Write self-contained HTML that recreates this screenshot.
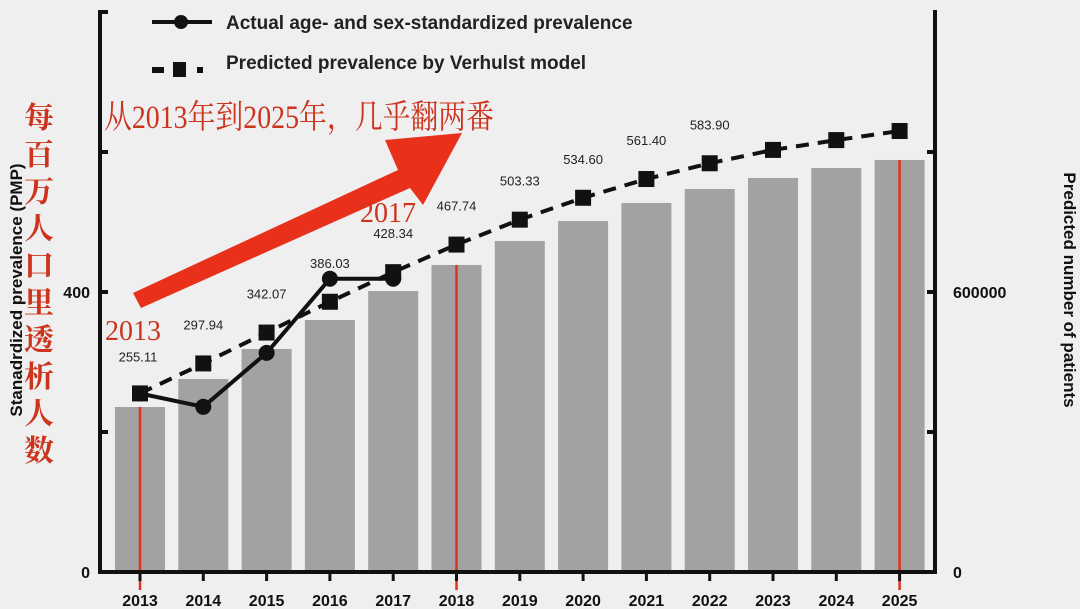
<!DOCTYPE html>
<html><head><meta charset="utf-8"><style>
body{margin:0;background:#efefef;}
svg{display:block;font-family:"Liberation Sans",Arial,sans-serif;}
.cn{font-family:"Liberation Serif","Noto Serif CJK SC",serif;fill:#cc341e;}
</style></head><body>
<svg width="1080" height="609" viewBox="0 0 1080 609">
<rect width="1080" height="609" fill="#efefef"/>
<g id="bars"></g>
<g id="redlines"></g>
<g id="axes"></g>
<g id="lines"></g>
<g id="labels"></g>
<g>
 <line x1="152" y1="22" x2="212" y2="22" stroke="#111" stroke-width="4"/>
 <circle cx="181" cy="22" r="7" fill="#111"/>
 <text x="226" y="29" font-size="19" font-weight="bold" fill="#222">Actual age- and sex-standardized prevalence</text>
 <rect x="152" y="67" width="12" height="6" fill="#111"/><rect x="173" y="62" width="13" height="15" fill="#111"/><rect x="197" y="67" width="6" height="6" fill="#111"/>
 <text x="226" y="69" font-size="19" font-weight="bold" fill="#222">Predicted prevalence by Verhulst model</text>
</g>
<text transform="translate(22,290) rotate(-90)" text-anchor="middle" font-size="17" font-weight="bold" fill="#111">Stanadrdized prevalence (PMP)</text>
<text transform="translate(1064,290) rotate(90)" text-anchor="middle" font-size="17" font-weight="bold" fill="#111">Predicted number of patients</text>
<polygon points="133,293 398,170 385,140 462,133 423,205 410,188 141,308" fill="#e8301a"/>
<text x="104" y="128" font-size="33" class="cn" textLength="390" lengthAdjust="spacingAndGlyphs">从2013年到2025年，几乎翻两番</text>
<text x="105" y="340" font-size="28" class="cn">2013</text>
<text x="360" y="222" font-size="28" class="cn">2017</text>
<g font-weight="bold">
<text class="cn" font-size="30" x="24" y="128">每</text><text class="cn" font-size="30" x="24" y="165">百</text><text class="cn" font-size="30" x="24" y="202">万</text><text class="cn" font-size="30" x="24" y="239">人</text><text class="cn" font-size="30" x="24" y="276">口</text><text class="cn" font-size="30" x="24" y="313">里</text><text class="cn" font-size="30" x="24" y="350">透</text><text class="cn" font-size="30" x="24" y="387">析</text><text class="cn" font-size="30" x="24" y="424">人</text><text class="cn" font-size="30" x="24" y="461">数</text>
</g>
</svg>
<script>
const years=[2013,2014,2015,2016,2017,2018,2019,2020,2021,2022,2023,2024,2025];
const patients=[353600,413600,477900,540000,602100,657900,709300,752100,790700,820700,844300,865700,882900];
const predicted=[255.11,297.94,342.07,386.03,428.34,467.74,503.33,534.60,561.40,583.90,603,617,630];
const predictedLabels=["255.11","297.94","342.07","386.03","428.34","467.74","503.33","534.60","561.40","583.90","","",""];
const actual=[255,236,313,419,419];
const leftTicks=[0,200,400,600,800];
const leftTickLabels=["0","","400","",""];
const rightTicks=[0,300000,600000,900000];
const rightTickLabels=["0","","600000",""];
const redYears=[2013,2018,2025];
const NS="http://www.w3.org/2000/svg";
const x0=140,dx=63.3,base=572;
const xs=i=>x0+i*dx;
const yL=v=>base-v*0.7;
const yR=v=>base-v*280/600000;
function mk(t,a,p){const e=document.createElementNS(NS,t);for(const k in a)e.setAttribute(k,a[k]);p.appendChild(e);return e;}
const gB=document.getElementById('bars'),gR=document.getElementById('redlines'),gA=document.getElementById('axes'),gL=document.getElementById('lines'),gT=document.getElementById('labels');
patients.forEach((v,i)=>{
 const r=mk('rect',{x:xs(i)-25,y:yR(v),width:50,height:base-yR(v),fill:'#a2a2a2'},gB);
 
 
});
redYears.forEach(yr=>{
 const i=years.indexOf(yr);
 const l=mk('line',{x1:xs(i),x2:xs(i),y1:yR(patients[i]),y2:base+18,stroke:'#e0321c','stroke-width':2.5},gR);
 
 
});
let a=mk('line',{x1:100,x2:100,y1:10,y2:base+2,stroke:'#111','stroke-width':4},gA);

a=mk('line',{x1:935,x2:935,y1:10,y2:base+2,stroke:'#111','stroke-width':4},gA);

a=mk('line',{x1:98,x2:937,y1:base,y2:base,stroke:'#111','stroke-width':4},gA);

leftTicks.forEach((v,i)=>{
 const y=Math.max(yL(v),12);
 mk('line',{x1:100,x2:108,y1:y,y2:y,stroke:'#111','stroke-width':4},gA);
 if(leftTickLabels[i]){const t=mk('text',{x:90,y:y+6,'text-anchor':'end','font-size':16,'font-weight':'bold',fill:'#111'},gA);t.textContent=leftTickLabels[i];
 }
});
rightTicks.forEach((v,i)=>{
 const y=Math.max(yR(v),12);
 mk('line',{x1:927,x2:935,y1:y,y2:y,stroke:'#111','stroke-width':4},gA);
 if(rightTickLabels[i]){const t=mk('text',{x:953,y:y+6,'font-size':16,'font-weight':'bold',fill:'#111'},gA);t.textContent=rightTickLabels[i];
 }
});
years.forEach((yr,i)=>{
 mk('line',{x1:xs(i),x2:xs(i),y1:base,y2:base+9,stroke:'#111','stroke-width':3},gA);
 const t=mk('text',{x:xs(i),y:base+34,'text-anchor':'middle','font-size':16,'font-weight':'bold',fill:'#111'},gA);
 t.textContent=yr;
 
 
});
let d=predicted.map((v,i)=>(i?'L':'M')+xs(i)+','+yL(v)).join(' ');
let p=mk('path',{d:d,fill:'none',stroke:'#111','stroke-width':4,'stroke-dasharray':'13,9'},gL);

predicted.forEach((v,i)=>{
 const r=mk('rect',{x:xs(i)-8,y:yL(v)-8,width:16,height:16,fill:'#111'},gL);
 
 
 if(predictedLabels[i]){const t=mk('text',{x:xs(i)+(i===0?-2:0),y:yL(v)-(i===0?32:34),'text-anchor':'middle','font-size':13,fill:'#222'},gT);
 t.textContent=predictedLabels[i];
 }
});
d=actual.map((v,i)=>(i?'L':'M')+xs(i)+','+yL(v)).join(' ');
p=mk('path',{d:d,fill:'none',stroke:'#111','stroke-width':4},gL);

actual.forEach((v,i)=>{
 const c=mk('circle',{cx:xs(i),cy:yL(v),r:8,fill:'#111'},gL);
 
 
});
</script>
</body></html>
